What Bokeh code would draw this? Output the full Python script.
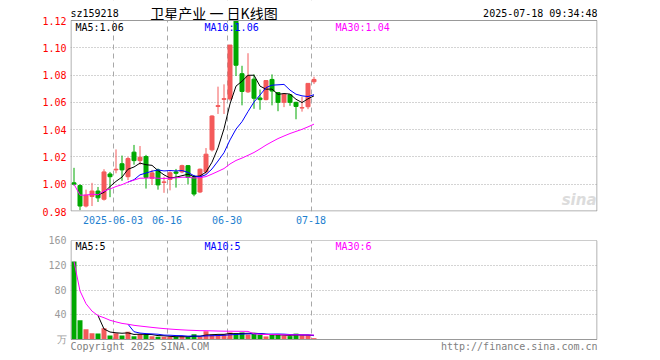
import pandas as pd
from bokeh.plotting import figure
from bokeh.models import (Range1d, FixedTicker, PrintfTickFormatter, Label,
                          ColumnDataSource, BoxAnnotation)
from bokeh.layouts import column
from bokeh.embed import file_html
from bokeh.resources import INLINE

# ---------------- data ----------------
dates = ["2025-05-22", "2025-05-23", "2025-05-26", "2025-05-27", "2025-05-28", "2025-05-29",
         "2025-05-30", "2025-06-03", "2025-06-04", "2025-06-05", "2025-06-06", "2025-06-09",
         "2025-06-10", "2025-06-11", "2025-06-12", "2025-06-13", "2025-06-16", "2025-06-17",
         "2025-06-18", "2025-06-19", "2025-06-20", "2025-06-23", "2025-06-24", "2025-06-25",
         "2025-06-26", "2025-06-27", "2025-06-30", "2025-07-01", "2025-07-02", "2025-07-03",
         "2025-07-04", "2025-07-07", "2025-07-08", "2025-07-09", "2025-07-10", "2025-07-11",
         "2025-07-14", "2025-07-15", "2025-07-16", "2025-07-17", "2025-07-18"]
opens = [1.001, 0.999, 0.984, 0.991, 0.995, 0.989, 1.0075, 1.0105, 1.015, 1.0055,
         1.0235, 1.0173, 1.0203, 1.0043, 1.0105, 1.0013, 1.0035, 1.009, 1.009, 1.0136,
         1.0055, 0.9943, 1.009, 1.0252, 1.0570, 1.0622, 1.0625, 1.1197, 1.081, 1.0677,
         1.077, 1.0632, 1.062, 1.0768, 1.0672, 1.060, 1.0655, 1.060, 1.0558, 1.0568, 1.0751]
highs = [1.012, 1.000, 0.996, 1.001, 0.998, 1.011, 1.009, 1.0255, 1.021, 1.020,
         1.0288, 1.028, 1.0215, 1.0105, 1.0115, 1.0055, 1.0095, 1.0112, 1.0143, 1.0141,
         1.0068, 1.0115, 1.0265, 1.0505, 1.0715, 1.0732, 1.102, 1.1197, 1.0868, 1.096,
         1.0805, 1.0694, 1.0762, 1.0805, 1.0676, 1.0662, 1.0657, 1.0605, 1.0641, 1.0739, 1.0788]
lows = [0.999, 0.981, 0.983, 0.984, 0.987, 0.988, 0.9905, 1.008, 1.0025, 1.003,
        1.0143, 1.0143, 0.9968, 0.9995, 0.996, 0.9937, 0.9955, 0.9975, 1.008, 1.000,
        0.9912, 0.9935, 1.0075, 1.024, 1.0515, 1.0515, 1.0612, 1.0793, 1.0578, 1.0669,
        1.0553, 1.0546, 1.0615, 1.0578, 1.0535, 1.0565, 1.0575, 1.0476, 1.0532, 1.055, 1.0734]
closes = [1.000, 0.984, 0.992, 0.995, 0.990, 1.009, 1.0055, 1.011, 1.0105, 1.0188,
          1.0173, 1.0198, 1.005, 1.0083, 0.9995, 1.0017, 1.0084, 1.008, 1.0136, 1.0049,
          0.9928, 1.011, 1.022, 1.050, 1.0576, 1.0627, 1.102, 1.0872, 1.068, 1.0793,
          1.063, 1.062, 1.076, 1.0683, 1.060, 1.066, 1.060, 1.057, 1.0562, 1.0739, 1.0768]
volumes = [126, 31, 16.5, 10, 9.6, 18, 6.5, 10, 6.5, 12.6,
           5.3, 9, 7.5, 5.3, 4.3, 4.3, 4.3, 4.3, 5.3, 4.3,
           8.3, 4.5, 13.5, 8, 7, 8.5, 11.5, 10.5, 11.5, 8,
           9.5, 8, 5, 8, 8, 6.5, 5.5, 9.5, 7, 7, 2.2]
price_ticks = [0.98, 1.00, 1.02, 1.04, 1.06, 1.08, 1.10, 1.12]
volume_ticks = [0, 40, 80, 120, 160]
volume_unit = "万"
date_tick_labels = {"2025-06-03": "2025-06-03", "2025-06-16": "06-16",
                    "2025-06-30": "06-30", "2025-07-18": "07-18"}

code = "sz159218"
title_text = "卫星产业 一 日K线图"
time_text = "2025-07-18 09:34:48"
price_ma_texts = ["MA5:1.06", "MA10:1.06", "MA30:1.04"]
vol_ma_texts = ["MA5:5", "MA10:5", "MA30:6"]
copyright_text = "Copyright 2025 SINA.COM"
url_text = "http://finance.sina.com.cn"

# ---------------- styles ----------------
RED = "#f45a5a"
GREEN = "#00a800"
MA_COLORS = ["black", "#0000ff", "#ff00ff"]
MONO = "DejaVu Sans Mono"
GRID = "#a8a8a8"
FRAME = "#999999"

n = len(dates)
xs = [i + 0.5 for i in range(n)]
colors = [RED if c >= o else GREEN for o, c in zip(opens, closes)]

cs = pd.Series(closes)
vs = pd.Series(volumes)
price_ma = [cs.rolling(5).mean(), cs.rolling(10).mean(), cs.rolling(30, min_periods=1).mean()]
vol_ma = [vs.rolling(5).mean(), vs.rolling(10).mean(), vs.rolling(30, min_periods=1).mean()]

tick_idx = [dates.index(d) for d in date_tick_labels]
overrides = {i: date_tick_labels[dates[i]] for i in tick_idx}

src = ColumnDataSource(dict(
    x=xs,
    top=[max(o, c) for o, c in zip(opens, closes)],
    bottom=[min(o, c) for o, c in zip(opens, closes)],
    high=highs, low=lows, color=colors, vol=volumes,
))

PX = 1.0 / 6  # data units per pixel along x
XR_START, XR_END = -PX / 2, 527 * PX - PX / 2


def base_fig(height, y_range, top, bottom, grid_ticks):
    p = figure(width=660, height=height, output_backend="svg", toolbar_location=None,
               x_range=Range1d(XR_START, XR_END), y_range=y_range,
               min_border_left=70, min_border_right=63, min_border_top=top,
               min_border_bottom=bottom, background_fill_color="white",
               border_fill_color="white", outline_line_color=None)
    p.xaxis.ticker = FixedTicker(ticks=tick_idx)
    p.xgrid.ticker = FixedTicker(ticks=tick_idx)
    p.xgrid.grid_line_color = GRID
    p.xgrid.grid_line_dash = "5 4"
    p.ygrid.ticker = FixedTicker(ticks=grid_ticks)
    p.ygrid.grid_line_color = GRID
    p.ygrid.grid_line_dash = "1 2"
    for ax in p.xaxis + p.yaxis:
        ax.axis_line_color = None
        ax.major_tick_line_color = None
        ax.minor_tick_line_color = None
        ax.major_tick_out = 0
        ax.major_tick_in = 0
        ax.minor_tick_out = 0
        ax.major_label_text_font = MONO
        ax.major_label_text_font_size = "10px"
    p.yaxis.major_label_standoff = 4
    return p


def frame_box(p, lo, hi, ypx):
    p.add_layout(BoxAnnotation(left=XR_START + PX / 2, right=XR_END - PX / 2,
                               bottom=lo + ypx / 2, top=hi, fill_alpha=0,
                               line_color=FRAME, line_alpha=1, line_width=1,
                               level="overlay"))


def label(p, text, sx, sy, color="black", align="left", font=MONO, size="10px", **kw):
    p.add_layout(Label(x=sx, y=sy, x_units="screen", y_units="screen", text=text,
                       text_font=font, text_font_size=size, text_color=color,
                       text_baseline="middle", text_align=align, **kw))


# ---------------- price panel ----------------
# frame spans canvas y 0..211; 0.98 -> 211 px, 1.12 -> 20 px
p_lo, p_hi = price_ticks[0], price_ticks[-1]
p_px = (p_hi - p_lo) / 191
p1 = base_fig(230, Range1d(p_lo, p_lo + p_px * 211), 0, 19, price_ticks[1:-1])
p1.yaxis.ticker = FixedTicker(ticks=price_ticks)
p1.yaxis.formatter = PrintfTickFormatter(format="%.2f")
p1.yaxis.major_label_text_color = "#ff0000"
p1.xaxis.major_label_overrides = overrides
p1.xaxis.major_label_text_color = "#1e7fcf"
p1.xaxis.major_label_standoff = 4

p1.add_layout(BoxAnnotation(bottom=p_hi, fill_color="white", fill_alpha=1,
                            line_color=None, level="underlay"))

p1.segment(x0="x", y0="low", x1="x", y1="high", color="color", line_width=1, source=src)
p1.vbar(x="x", width=4 * PX, top="top", bottom="bottom", fill_color="color",
        line_color="color", line_width=1, source=src)
for ma, col in zip(price_ma, MA_COLORS):
    p1.line(xs, list(ma), line_color=col, line_width=1)

frame_box(p1, p_lo, p_hi, p_px)

label(p1, code, 0, 198)
label(p1, title_text, 143.5, 199, align="center", font="Noto Sans CJK SC", size="14px")
label(p1, time_text, 527, 198, align="right")
for t, sx, col in zip(price_ma_texts, [5, 134, 265], MA_COLORS):
    label(p1, t, sx, 184, color=col)
label(p1, "sina", 526, 12, color="#dcdcdc", align="right", font="DejaVu Sans",
      size="15px", text_font_style="bold italic")

# ---------------- volume panel ----------------
# frame spans canvas y 240..360; 0 -> 339 px, 160 -> 240 px
v_lo, v_hi = volume_ticks[0], volume_ticks[-1]
v_px = (v_hi - v_lo) / 99
p2 = base_fig(130, Range1d(v_lo - v_px * 21, v_hi), 10, 0, volume_ticks[1:-1])
p2.yaxis.ticker = FixedTicker(ticks=volume_ticks)
p2.yaxis.major_label_overrides = {0: volume_unit}
p2.yaxis.major_label_text_color = "#9a9a9a"
p2.xaxis.visible = False

p2.add_layout(BoxAnnotation(top=v_lo, fill_color="white", fill_alpha=1,
                            line_color=None, level="underlay"))

p2.vbar(x="x", width=5 * PX, top="vol", bottom=0, fill_color="color",
        line_color=None, source=src)
for ma, col in zip(vol_ma, MA_COLORS):
    p2.line(xs, list(ma), line_color=col, line_width=1)

frame_box(p2, v_lo, v_hi, 0)

for t, sx, col in zip(vol_ma_texts, [5, 134, 265], MA_COLORS):
    label(p2, t, sx, 114, color=col)
label(p2, copyright_text, 0, 14, color="#808080")
label(p2, url_text, 527, 14, color="#808080", align="right")

layout = column(p1, p2, spacing=0)
open("out.html", "w").write(file_html(layout, INLINE))
